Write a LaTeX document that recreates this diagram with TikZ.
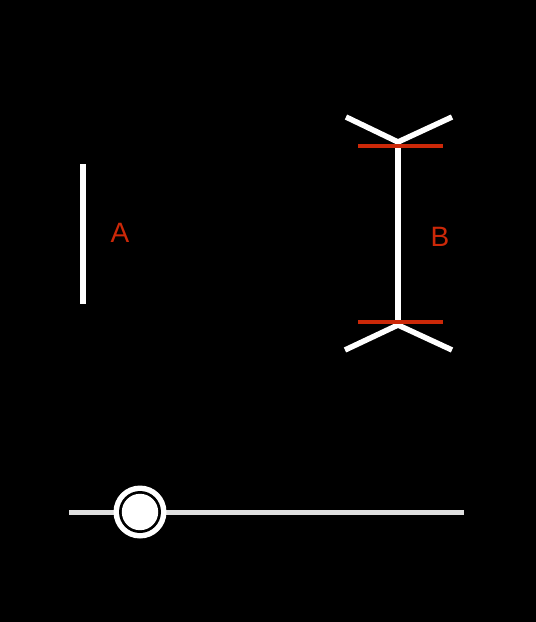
\documentclass[tikz,border=0pt]{standalone}
\usepackage{fontspec}
\setmainfont{Liberation Sans}
\usepackage{tikz}
\definecolor{markred}{RGB}{204,40,8}
\definecolor{trackgray}{RGB}{224,224,224}

\begin{document}
\begin{tikzpicture}[x=1pt,y=-1pt,
  shaft/.style={white,line width=5.5pt},
  fin/.style={white,line width=5.5pt,miter limit=2},
  marker/.style={markred,line width=3.8pt},
  letter/.style={text=markred,font=\fontsize{28}{30}\selectfont,inner sep=0pt}]
\pgfmathsetmacro{\xa}{83}
\pgfmathsetmacro{\xb}{398}
\pgfmathsetmacro{\ytop}{142}
\pgfmathsetmacro{\ybot}{325}
\pgfmathsetmacro{\ys}{512}
\useasboundingbox[fill=black] (0,0) rectangle (536,622);
% line A
\draw[shaft] (\xa,164) -- (\xa,304);
\node[letter] (labelA) at (120,233) {A};
% line B with fins
\draw[shaft] (\xb,\ytop) -- (\xb,\ybot);
\draw[fin] (346,117) -- (\xb,\ytop) -- (452,117);
\draw[fin] (345,350) -- (\xb,\ybot) -- (452,350);
\draw[marker] (358,146) -- (443,146);
\draw[marker] (358,322) -- (443,322);
\node[letter] (labelB) at (440,237) {B};
% slider
\draw[trackgray,line width=5pt] (69,\ys) -- (464,\ys);
\fill[white] (140,\ys) circle (26.5);
\fill[black] (140,\ys) circle (21);
\fill[white] (140,\ys) circle (18.2);
\end{tikzpicture}
\end{document}
